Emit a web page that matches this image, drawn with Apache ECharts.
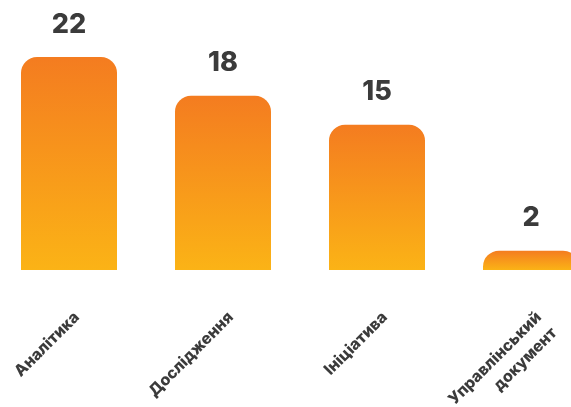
<!DOCTYPE html>
<html><head><meta charset="utf-8">
<script src="https://cdn.jsdelivr.net/npm/echarts@6/dist/echarts.min.js"></script>
<style>html,body{margin:0;padding:0;background:#fff}#c{width:571px;height:407px}</style>
</head><body><div id="c"></div>
<script>
const categories = ['Аналітика', 'Дослідження', 'Ініціатива', 'Управлінський\nдокумент'];
const values = [22, 18, 15, 2];

const chart = echarts.init(document.getElementById('c'), null, {renderer: 'canvas'});
chart.setOption({
  animation: false,
  grid: {left: -8, width: 616, top: 57, bottom: 137, containLabel: false, outerBoundsMode: 'none'},
  xAxis: {
    type: 'category',
    data: categories,
    axisLine: {show: false}, axisTick: {show: false},
    axisLabel: {
      rotate: 45, margin: 37, interval: 0, hideOverlap: false, verticalAlign: 'top',
      fontFamily: 'Inter', fontWeight: 800, fontSize: 16, color: '#3b3b3b', lineHeight: 22
    }
  },
  yAxis: {type: 'value', min: 0, max: 22, show: false},
  series: [{
    type: 'bar',
    data: values,
    barWidth: 96,
    itemStyle: {
      borderRadius: [16, 16, 0, 0],
      color: new echarts.graphic.LinearGradient(0, 0, 0, 1, [
        {offset: 0, color: '#F47C20'},
        {offset: 1, color: '#FBB316'}
      ])
    },
    label: {
      show: true, position: 'top', distance: 19,
      fontFamily: 'Inter', fontWeight: 800, fontSize: 27, color: '#3b3b3b'
    }
  }]
});
</script></body></html>
